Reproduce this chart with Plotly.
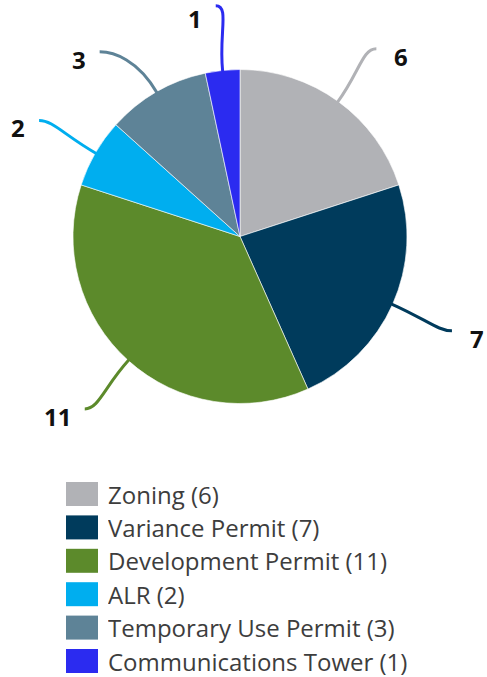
import math
import plotly.graph_objects as go

labels = ["Zoning", "Variance Permit", "Development Permit", "ALR",
          "Temporary Use Permit", "Communications Tower"]
values = [6, 7, 11, 2, 3, 1]
colors = ["#b1b2b6", "#003b5c", "#5c8a2b", "#00aeef", "#5e8397", "#2b2bf0"]

W, H = 487, 677
CX, CY, R = 240.0, 236.5, 167.0
RL = 232.0      # radius of the leader-line ends
GAP = 46.0      # minimum vertical gap between labels on one side


def px(x):
    return x / W


def py(y):
    return 1 - y / H


fig = go.Figure(go.Pie(
    labels=labels, values=values, sort=False, direction="clockwise", rotation=0,
    marker=dict(colors=colors, line=dict(color="white", width=0.6)),
    textinfo="none", hoverinfo="label+value", showlegend=False,
    domain=dict(x=[px(CX - R), px(CX + R)], y=[py(CY + R), py(CY - R)]),
))

# slice geometry from data
total = sum(values)
items = []
cum = 0
for i, v in enumerate(values):
    mid = (cum + v / 2) / total * 2 * math.pi
    cum += v
    ux, uy = math.sin(mid), -math.cos(mid)
    sign = 1 if ux > 0 else -1
    items.append(dict(i=i, ux=ux, uy=uy, sign=sign, ty=CY + RL * uy))

# simple collision avoidance per side
for s in (1, -1):
    side = sorted([it for it in items if it["sign"] == s], key=lambda d: d["ty"])
    for a, b in zip(side, side[1:]):
        if b["ty"] < a["ty"] + GAP:
            b["ty"] = a["ty"] + GAP
for it in items:
    dy = it["ty"] - CY
    it["tx"] = CX + it["sign"] * math.sqrt(max(RL ** 2 - dy ** 2, 0))

shapes = []
annotations = []
for it in items:
    v, col = values[it["i"]], colors[it["i"]]
    ux, uy, sign = it["ux"], it["uy"], it["sign"]
    p0 = (CX + (R - 1) * ux, CY + (R - 1) * uy)
    t = (it["tx"], it["ty"])
    p1 = (p0[0] + 38 * ux, p0[1] + 38 * uy)
    p2 = (t[0] - sign * 14, t[1])
    path = "M {},{} C {},{} {},{} {},{}".format(
        px(p0[0]), py(p0[1]), px(p1[0]), py(p1[1]),
        px(p2[0]), py(p2[1]), px(t[0]), py(t[1]))
    shapes.append(dict(type="path", path=path, xref="paper", yref="paper",
                       line=dict(color=col, width=3)))
    off = 16 if sign > 0 else 12
    label_y = max(t[1] + 7, 17.5)   # keep the label box inside the page
    annotations.append(dict(
        x=px(t[0] + sign * off), y=py(label_y), xref="paper", yref="paper",
        text="<b>{}</b>".format(v), showarrow=False, height=22,
        xanchor="left" if sign > 0 else "right", yanchor="middle",
        font=dict(family="Open Sans", size=24, color="#111111")))

# legend
for i, (lab, v, col) in enumerate(zip(labels, values, colors)):
    top = 482 + i * 33.4
    shapes.append(dict(type="rect", xref="paper", yref="paper",
                       x0=px(66), x1=px(98), y0=py(top), y1=py(top + 24),
                       fillcolor=col, line=dict(width=0)))
    annotations.append(dict(
        x=px(106), y=py(top + 12), xref="paper", yref="paper",
        text="{} ({})".format(lab, v), showarrow=False, height=31,
        xanchor="left", yanchor="middle",
        font=dict(family="Open Sans", size=24, color="#3d3d3d")))

fig.update_layout(
    width=W, height=H, margin=dict(l=0, r=0, t=0, b=0),
    paper_bgcolor="white", plot_bgcolor="white",
    shapes=shapes, annotations=annotations,
)

fig.write_html("out.html", config={"displayModeBar": False},
               post_script="document.body.style.margin='0';document.body.style.overflow='hidden';")
